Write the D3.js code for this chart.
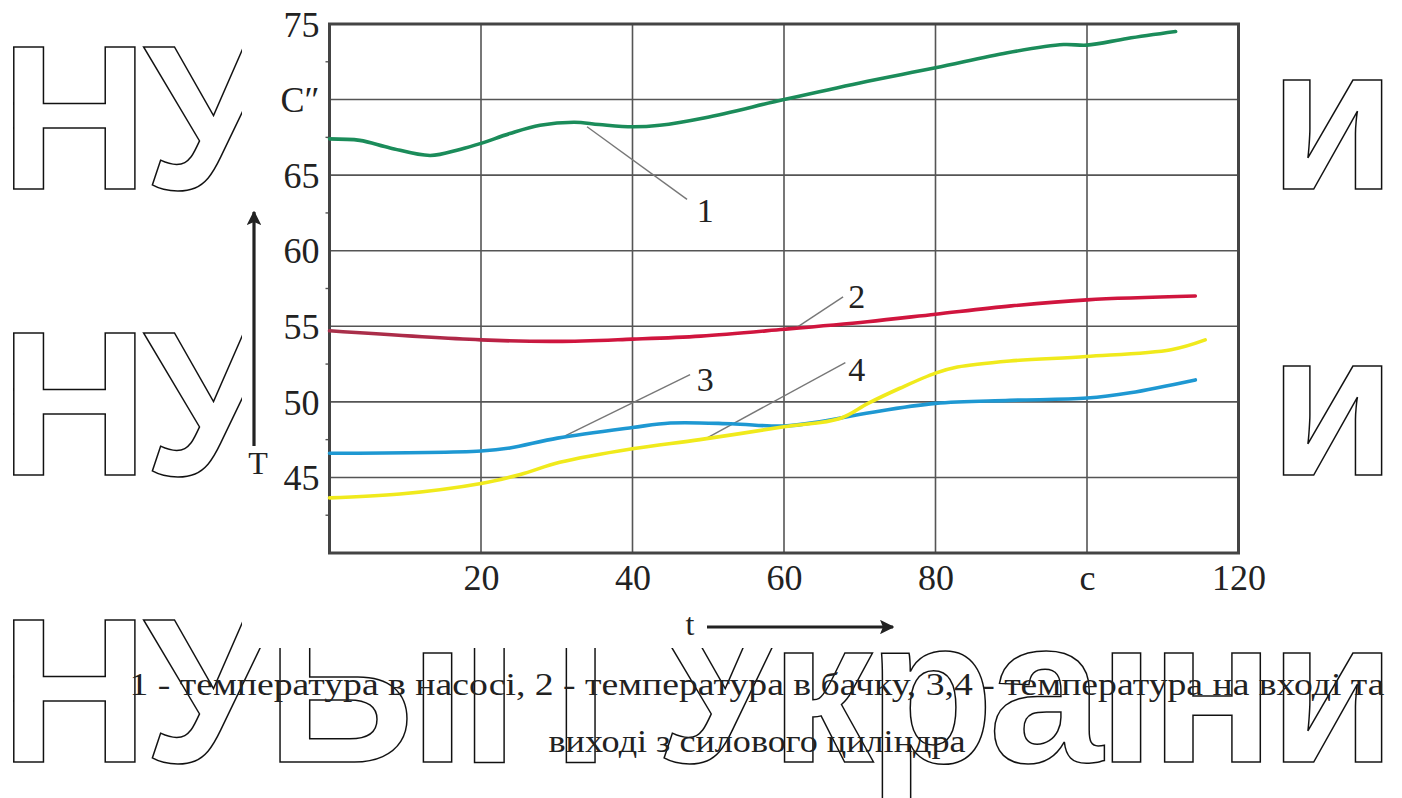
<!DOCTYPE html>
<html><head><meta charset="utf-8">
<script src="https://cdn.jsdelivr.net/npm/d3@7"></script>
<style>html,body{margin:0;padding:0;background:#fff;}svg{display:block;}</style>
</head><body>
<svg id="chart" width="1402" height="798"></svg>
<script>
// ---------- data ----------
const xTicks = [20, 40, 60, 80, 100, 120];
const xTickLabels = ["20", "40", "60", "80", "c", "120"];
const yTicks = [45, 50, 55, 60, 65, 70, 75];
const yTickLabels = ["45", "50", "55", "60", "65", "C\u2033", "75"];

const t1 = [0, 4, 8, 13.3, 17.2, 20, 23.8, 27.8, 32.3, 35.6, 40, 43.6, 49.6, 60, 70, 80, 89.5, 96.9, 100, 105.3, 111.7];
const v1 = [67.4, 67.3, 66.8, 66.3, 66.7, 67.1, 67.75, 68.3, 68.5, 68.35, 68.2, 68.3, 68.8, 70.0, 71.1, 72.1, 73.1, 73.64, 73.6, 74.04, 74.5];

const t2 = [0, 20, 30, 40, 49, 60, 71, 80, 90, 100, 114.3];
const v2 = [54.7, 54.1, 54.0, 54.15, 54.35, 54.8, 55.3, 55.8, 56.35, 56.75, 57.0];

const t3 = [0, 20, 23.8, 30.1, 40, 45, 53, 60, 64.9, 71.5, 80, 89.8, 100, 105.7, 114.3];
const v3 = [46.6, 46.75, 46.95, 47.6, 48.3, 48.6, 48.55, 48.4, 48.7, 49.3, 49.9, 50.1, 50.25, 50.6, 51.45];

const t4 = [0, 9.3, 20, 25.2, 30.4, 40, 48.9, 60, 67.4, 71.1, 75.3, 80, 82.9, 89.8, 99.9, 111.1, 115.6];
const v4 = [43.65, 43.9, 44.6, 45.2, 46.0, 46.9, 47.5, 48.35, 48.9, 49.9, 50.9, 51.9, 52.3, 52.7, 53.0, 53.45, 54.1];

const seriesNames = ["1", "2", "3", "4"];
const seriesColors = ["#1b8c5a", "#d0153e", "#1e98d2", "#f0ea1c"];

// leader lines in data units
const leaderFrom = [[34.0, 68.2], [61.6, 54.9], [31.1, 47.75], [49.8, 47.6]];
const leaderTo = [[47.2, 63.4], [67.8, 56.95], [47.6, 51.8], [68.1, 52.6]];
const leaderLabelAt = [[49.6, 62.7], [69.6, 57.0], [49.6, 51.5], [69.6, 52.2]];

const watermarkText = "НУБіП України";
const captionLines = [
  "1 - температура в насосі, 2 - температура в бачку, 3,4 - температура на вході та",
  "виході з силового циліндра"
];

// ---------- layout ----------
const svg = d3.select("#chart");
const W = 1402, H = 798;
const plot = {left: 329.5, right: 1238.5, top: 24, bottom: 553};
const serif = "'Liberation Serif', 'Times New Roman', Times, serif";
const sans = "'Liberation Sans', Arial, Helvetica, sans-serif";

svg.append("rect").attr("width", W).attr("height", H).attr("fill", "#fff");

// watermark rows
const wmBaselines = [189, 475, 762];
const wm = svg.append("g");
wmBaselines.forEach(b => {
  wm.append("text")
    .attr("x", 0).attr("y", b)
    .style("font-family", sans)
    .attr("font-weight", "bold")
    .attr("font-size", 206)
    .attr("textLength", 1396)
    .attr("lengthAdjust", "spacing")
    .attr("fill", "none")
    .attr("stroke", "#111")
    .attr("stroke-width", 1.5)
    .text(watermarkText);
});
// chart image covering watermark
svg.append("rect").attr("x", 242).attr("y", 0).attr("width", 1024).attr("height", 648).attr("fill", "#fff");

const x = d3.scaleLinear().domain([0, 120]).range([plot.left, plot.right]);
const y = d3.scaleLinear().domain([40, 75]).range([plot.bottom, plot.top]);

// grid
const g = svg.append("g");
g.selectAll(".vg").data(xTicks.slice(0, -1)).join("line")
  .attr("x1", d => x(d)).attr("x2", d => x(d))
  .attr("y1", plot.top).attr("y2", plot.bottom)
  .attr("stroke", "#555").attr("stroke-width", 1.6);
g.selectAll(".hg").data(yTicks.slice(0, -1)).join("line")
  .attr("x1", plot.left).attr("x2", plot.right)
  .attr("y1", d => y(d)).attr("y2", d => y(d))
  .attr("stroke", "#555").attr("stroke-width", 1.6);
const minor = d3.range(42.5, 75, 5);
g.selectAll(".mt").data(minor).join("line")
  .attr("x1", plot.left - 4).attr("x2", plot.left)
  .attr("y1", d => y(d)).attr("y2", d => y(d))
  .attr("stroke", "#555").attr("stroke-width", 1.4);

g.append("rect").attr("x", plot.left).attr("y", plot.top)
  .attr("width", plot.right - plot.left).attr("height", plot.bottom - plot.top)
  .attr("fill", "none").attr("stroke", "#444").attr("stroke-width", 3);

const xAxis = d3.axisBottom(x).tickValues(xTicks).tickSize(0).tickPadding(0)
  .tickFormat((d, i) => xTickLabels[i]);
const xa = svg.append("g").attr("transform", `translate(0,${plot.bottom})`).call(xAxis);
xa.attr("font-family", null);
xa.select(".domain").remove();
xa.selectAll("text").style("font-family", serif).attr("font-size", 36).attr("fill", "#222")
  .attr("dy", "1.02em");

const yAxis = d3.axisLeft(y).tickValues(yTicks).tickSize(0).tickPadding(10)
  .tickFormat((d, i) => yTickLabels[i]);
const ya = svg.append("g").attr("transform", `translate(${plot.left},0)`).call(yAxis);
ya.attr("font-family", null);
ya.select(".domain").remove();
ya.selectAll("text").style("font-family", serif).attr("font-size", 36).attr("fill", "#222")
  .attr("dy", "0.34em");

// leaders
const leaders = svg.append("g");
leaderFrom.forEach((f, i) => {
  leaders.append("line")
    .attr("x1", x(f[0])).attr("y1", y(f[1]))
    .attr("x2", x(leaderTo[i][0])).attr("y2", y(leaderTo[i][1]))
    .attr("stroke", "#777").attr("stroke-width", 1.4);
  leaders.append("text")
    .attr("x", x(leaderLabelAt[i][0])).attr("y", y(leaderLabelAt[i][1]))
    .attr("text-anchor", "middle").attr("dy", "0.35em")
    .style("font-family", serif).attr("font-size", 34).attr("fill", "#222")
    .text(seriesNames[i]);
});

// series
const allT = [t1, t2, t3, t4], allV = [v1, v2, v3, v4];
const line = d3.line().x(d => x(d[0])).y(d => y(d[1])).curve(d3.curveCatmullRom.alpha(0.5));
const defs = svg.append("defs");
const grad = defs.append("linearGradient").attr("id", "redgrad")
  .attr("gradientUnits", "userSpaceOnUse")
  .attr("x1", x(0)).attr("x2", x(30)).attr("y1", 0).attr("y2", 0);
grad.append("stop").attr("offset", 0).attr("stop-color", "#a8304a");
grad.append("stop").attr("offset", 0.6).attr("stop-color", "#b02848");
grad.append("stop").attr("offset", 1).attr("stop-color", seriesColors[1]);

allT.forEach((ts, i) => {
  const pts = ts.map((t, j) => [t, allV[i][j]]);
  svg.append("path").datum(pts)
    .attr("d", line)
    .attr("fill", "none")
    .attr("stroke", i === 1 ? "url(#redgrad)" : seriesColors[i])
    .attr("stroke-width", 3.6)
    .attr("stroke-linecap", "round");
});

// axis titles with arrows
defs.append("marker").attr("id", "arr").attr("viewBox", "0 0 10 10")
  .attr("refX", 9).attr("refY", 5).attr("markerWidth", 4.5).attr("markerHeight", 4.5)
  .attr("orient", "auto").attr("markerUnits", "strokeWidth")
  .append("path").attr("d", "M0,0 L10,5 L0,10 L2,5 z").attr("fill", "#222");

svg.append("line").attr("x1", 254).attr("y1", 446).attr("x2", 254).attr("y2", 212)
  .attr("stroke", "#222").attr("stroke-width", 3.2).attr("marker-end", "url(#arr)");
svg.append("text").attr("x", 258).attr("y", 474).attr("text-anchor", "middle")
  .style("font-family", serif).attr("font-size", 32).attr("fill", "#222").text("T");

svg.append("line").attr("x1", 707).attr("y1", 627).attr("x2", 893).attr("y2", 627)
  .attr("stroke", "#222").attr("stroke-width", 3.2).attr("marker-end", "url(#arr)");
svg.append("text").attr("x", 690).attr("y", 635).attr("text-anchor", "middle")
  .style("font-family", serif).attr("font-size", 32).attr("fill", "#222").text("t");

// caption
svg.append("text").attr("x", 757).attr("y", 695).attr("text-anchor", "middle")
  .style("font-family", serif).attr("font-size", 32).attr("fill", "#222")
  .attr("textLength", 1255).attr("lengthAdjust", "spacingAndGlyphs")
  .text(captionLines[0]);
svg.append("text").attr("x", 757).attr("y", 752).attr("text-anchor", "middle")
  .style("font-family", serif).attr("font-size", 32).attr("fill", "#222")
  .attr("textLength", 417).attr("lengthAdjust", "spacingAndGlyphs")
  .text(captionLines[1]);
</script>
</body></html>
